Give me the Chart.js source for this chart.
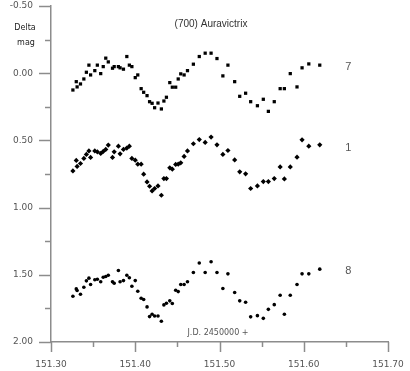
<!DOCTYPE html>
<html>
<head>
<meta charset="utf-8">
<script src="https://cdn.jsdelivr.net/npm/chart.js@4"></script>
<style>
  html, body { margin: 0; padding: 0; background: #fff; }
  #wrap { width: 410px; height: 371px; }
</style>
</head>
<body>
<div id="wrap"><canvas id="lightcurve" width="410" height="371"></canvas></div>
<script>
// J.D. - 2450000, shared by all three runs
const jdTimes = [151.326, 151.331, 151.330, 151.335, 151.339, 151.342, 151.345, 151.347, 151.352, 151.355,
    151.359, 151.362, 151.365, 151.368, 151.373, 151.375, 151.380, 151.382, 151.386, 151.390,
    151.393, 151.396, 151.400, 151.403, 151.407, 151.410, 151.414, 151.417, 151.420, 151.423,
    151.427, 151.431, 151.434, 151.437, 151.441, 151.444, 151.448, 151.451, 151.454, 151.458,
    151.462, 151.469, 151.476, 151.483, 151.490, 151.497, 151.504, 151.510, 151.518, 151.524,
    151.531, 151.537, 151.545, 151.552, 151.558, 151.565, 151.572, 151.577, 151.584, 151.592,
    151.598, 151.606, 151.619];

// delta mag against comparison star 7
const mag7 = [0.125, 0.102, 0.063, 0.080, 0.043, -0.007, -0.060, 0.013, -0.019, -0.060,
    0.003, -0.049, -0.112, -0.084, -0.037, -0.049, -0.049, -0.040, -0.030, -0.124,
    -0.060, -0.049, 0.033, 0.013, 0.115, 0.142, 0.167, 0.212, 0.224, 0.257,
    0.222, 0.266, 0.207, 0.179, 0.070, 0.104, 0.104, 0.043, 0.005, 0.013,
    -0.019, -0.067, -0.124, -0.149, -0.149, -0.109, 0.020, -0.060, 0.063, 0.172,
    0.149, 0.212, 0.242, 0.194, 0.284, 0.212, 0.115, 0.115, 0.003, 0.102,
    -0.040, -0.069, -0.060];

// delta mag against comparison star 1
const mag1 = [0.727, 0.694, 0.649, 0.672, 0.634, 0.604, 0.578, 0.627, 0.578, 0.585,
    0.597, 0.582, 0.567, 0.535, 0.627, 0.585, 0.543, 0.600, 0.567, 0.557,
    0.543, 0.634, 0.647, 0.677, 0.677, 0.751, 0.809, 0.841, 0.876, 0.858,
    0.839, 0.908, 0.784, 0.784, 0.704, 0.714, 0.679, 0.677, 0.667, 0.619,
    0.578, 0.525, 0.494, 0.515, 0.475, 0.533, 0.604, 0.575, 0.645, 0.734,
    0.749, 0.858, 0.839, 0.806, 0.806, 0.784, 0.697, 0.787, 0.697, 0.625,
    0.496, 0.543, 0.533];

// delta mag against comparison star 8
const mag8 = [1.660, 1.617, 1.605, 1.645, 1.593, 1.545, 1.525, 1.572, 1.537, 1.533,
    1.552, 1.518, 1.513, 1.503, 1.552, 1.563, 1.468, 1.552, 1.543, 1.503,
    1.522, 1.585, 1.543, 1.622, 1.675, 1.684, 1.739, 1.811, 1.794, 1.806,
    1.806, 1.846, 1.724, 1.712, 1.694, 1.714, 1.615, 1.625, 1.572, 1.572,
    1.552, 1.483, 1.412, 1.483, 1.403, 1.483, 1.602, 1.493, 1.632, 1.694,
    1.704, 1.813, 1.804, 1.824, 1.757, 1.722, 1.652, 1.794, 1.652, 1.572,
    1.493, 1.493, 1.458];

const seriesNames = ['7', '1', '8'];
const seriesLabelMag = [-0.05, 0.56, 1.47];
const seriesLabelJd = 151.653;

const xRange = [151.30, 151.70];
const yRange = [-0.50, 2.00];

const axisColor = '#8c8c8c';
const textColor = '#555';

const toPoints = (mags) => jdTimes.map((t, i) => ({ x: t, y: mags[i] }));
const isMajor = (v, step) => Math.abs(v / step - Math.round(v / step)) < 1e-6;

// tick marks outside the axes (majors long, minors short) and the loose texts
const decorations = {
    id: 'decorations',
    afterDraw(chart) {
        const ctx = chart.ctx;
        const xs = chart.scales.x;
        const ys = chart.scales.y;
        const area = chart.chartArea;
        ctx.save();
        ctx.strokeStyle = axisColor;
        ctx.lineWidth = 1.5;
        ys.ticks.forEach((t) => {
            const p = Math.round(ys.getPixelForValue(t.value)) + 0.5;
            const len = isMajor(t.value, 0.5) ? 12 : 6;
            ctx.beginPath();
            ctx.moveTo(area.left, p);
            ctx.lineTo(area.left - len, p);
            ctx.stroke();
        });
        xs.ticks.forEach((t) => {
            const p = Math.round(xs.getPixelForValue(t.value)) + 0.5;
            const len = isMajor(t.value, 0.1) ? 10 : 5;
            ctx.beginPath();
            ctx.moveTo(p, area.bottom);
            ctx.lineTo(p, area.bottom + len);
            ctx.stroke();
        });

        ctx.fillStyle = '#333';
        ctx.textAlign = 'center';
        ctx.textBaseline = 'middle';
        ctx.font = '10px "Liberation Sans", Arial, sans-serif';
        ctx.fillText('(700) Auravictrix', 211, 24);

        ctx.font = '8px "DejaVu Sans", sans-serif';
        ctx.fillStyle = '#222';
        ctx.fillText('Delta', 25, 28);
        ctx.fillText('mag', 26, 43);

        ctx.fillStyle = textColor;
        ctx.font = '8px "DejaVu Sans", sans-serif';
        ctx.fillText('J.D. 2450000 +', 218, 333);

        ctx.font = '11px "Liberation Sans", Arial, sans-serif';
        seriesNames.forEach((name, i) => {
            ctx.fillText(name, xs.getPixelForValue(seriesLabelJd), ys.getPixelForValue(seriesLabelMag[i]));
        });
        ctx.restore();
    }
};

const ctxEl = document.getElementById('lightcurve');
new Chart(ctxEl, {
    type: 'scatter',
    data: {
        datasets: [
            { label: '7', data: toPoints(mag7), pointStyle: 'rect', pointRadius: 2.3, backgroundColor: '#000', borderColor: '#000', borderWidth: 0 },
            { label: '1', data: toPoints(mag1), pointStyle: 'rectRot', pointRadius: 2.6, backgroundColor: '#000', borderColor: '#000', borderWidth: 0 },
            { label: '8', data: toPoints(mag8), pointStyle: 'circle', pointRadius: 1.8, backgroundColor: '#000', borderColor: '#000', borderWidth: 0 }
        ]
    },
    options: {
        responsive: false,
        animation: false,
        devicePixelRatio: 1,
        layout: { padding: { top: 6, right: 22, left: 0, bottom: 0 } },
        plugins: {
            legend: { display: false },
            tooltip: { enabled: false }
        },
        scales: {
            x: {
                type: 'linear',
                min: xRange[0],
                max: xRange[1],
                afterFit: (scale) => {
                    scale.height = 29;
                    scale.paddingLeft = 0;
                    scale.paddingRight = 0;
                },
                grid: { display: false, drawTicks: false },
                border: { display: true, color: axisColor, width: 1.5 },
                ticks: {
                    stepSize: 0.05,
                    autoSkip: false,
                    maxRotation: 0,
                    padding: 17,
                    color: textColor,
                    font: { family: '"DejaVu Sans", sans-serif', size: 9 },
                    callback: (v) => isMajor(v, 0.1) ? Number(v).toFixed(2) : ''
                }
            },
            y: {
                type: 'linear',
                reverse: true,
                min: yRange[0],
                max: yRange[1],
                afterFit: (scale) => {
                    scale.width = 51;
                    scale.paddingTop = 0;
                    scale.paddingBottom = 0;
                },
                grid: { display: false, drawTicks: false },
                border: { display: true, color: axisColor, width: 1.5 },
                ticks: {
                    stepSize: 0.25,
                    autoSkip: false,
                    padding: 18,
                    color: textColor,
                    font: { family: '"DejaVu Sans", sans-serif', size: 9 },
                    callback: (v) => isMajor(v, 0.5) ? Number(v).toFixed(2) : ''
                }
            }
        }
    },
    plugins: [decorations]
});
</script>
</body>
</html>
